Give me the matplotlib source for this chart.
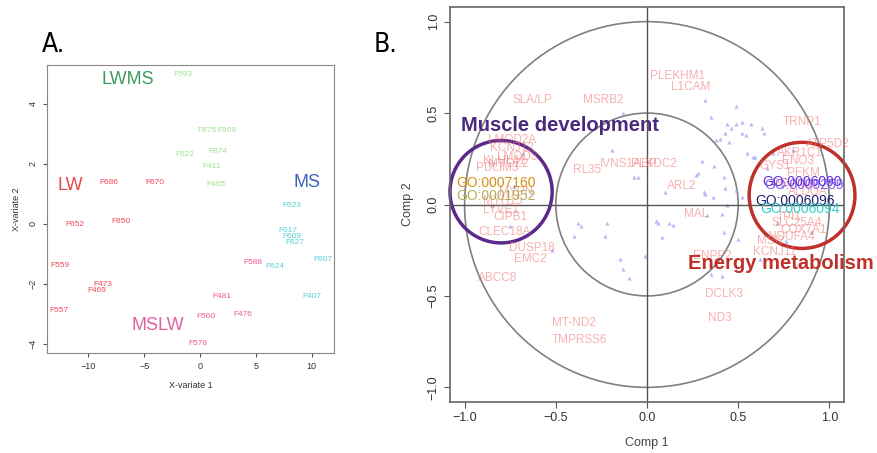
import numpy as np
import matplotlib.pyplot as plt
from matplotlib.patches import Circle

plt.rcParams['font.family'] = ['Liberation Sans', 'DejaVu Sans']

# ---- panel A: sample plot (X-variate 1 vs X-variate 2) ----
samples = ["F593", "F875", "F509", "F622", "F874", "F411", "F405",
           "F686", "F670", "F652", "F850", "F559", "F473", "F469", "F557",
           "F623", "F617", "F609", "F627", "F607", "F624", "F407",
           "F588", "F481", "F476", "F560", "F578"]
var1 = [-1.5, 0.6, 2.4, -1.4, 1.6, 1.0, 1.4,
        -8.2, -4.0, -11.2, -7.1, -12.5, -8.7, -9.2, -12.6,
        8.2, 7.9, 8.2, 8.5, 11.0, 6.7, 10.0,
        4.7, 2.0, 3.8, 0.5, -0.2]
var2 = [4.97, 3.1, 3.1, 2.33, 2.43, 1.9, 1.3,
        1.37, 1.4, 0.0, 0.07, -1.37, -2.0, -2.23, -2.87,
        0.63, -0.2, -0.42, -0.63, -1.17, -1.4, -2.4,
        -1.3, -2.4, -3.0, -3.1, -3.97]
sample_group = ["LWMS"] * 7 + ["LW"] * 8 + ["MS"] * 7 + ["MSLW"] * 5

groups = ["LWMS", "LW", "MS", "MSLW"]
group_x = [-6.5, -11.6, 9.6, -3.8]
group_y = [4.8, 1.3, 1.37, -3.4]
group_title_col = {"LWMS": "#3f9a5c", "LW": "#e8474a", "MS": "#3a62b8", "MSLW": "#e0609e"}
group_point_col = {"LWMS": "#8fdc7c", "LW": "#f0283c", "MS": "#3cc9cf", "MSLW": "#f03c8c"}

# ---- panel B: correlation circle (Comp 1 vs Comp 2) ----
tri_x = [0.32, 0.49, 0.35, 0.44, 0.49, 0.52, 0.43, 0.38, 0.45, 0.52, -0.13, -0.19,
         -0.07, 0.37, 0.42, 0.27, 0.31, 0.36, 0.43, 0.49, 0.10, 0.41, 0.33, 0.06,
         0.12, 0.42, -0.38, -0.36, -0.22, -0.23, -0.40, 0.46, 0.57, 0.63, 0.40,
         0.54, 0.55, 0.58, 0.66, 0.28, -0.05, 0.32, 0.52, 0.05, 0.44, 0.14, 0.08,
         0.50, 0.35, 0.41, -0.01, -0.15, -0.13, -0.10, -0.52, 0.59, 0.64, 0.69,
         0.71, -0.73, -0.85, -0.75, -0.68, 0.76, 0.80, 0.90, 0.74, 0.62, 0.30]
tri_y = [0.57, 0.54, 0.48, 0.44, 0.44, 0.45, 0.39, 0.35, 0.34, 0.39, 0.50, 0.30,
         0.15, 0.21, 0.15, 0.16, 0.07, 0.04, 0.09, 0.08, 0.07, -0.05, -0.06, -0.10,
         -0.10, -0.15, -0.10, -0.12, -0.10, -0.17, -0.17, 0.42, 0.44, 0.42, 0.36,
         0.38, 0.28, 0.26, 0.20, 0.17, 0.15, 0.06, 0.04, -0.09, 0.00, -0.11, -0.18,
         -0.19, -0.38, -0.39, -0.28, -0.30, -0.35, -0.40, -0.25, 0.26, 0.39, 0.28,
         -0.10, 0.10, 0.00, -0.12, 0.28, -0.20, 0.30, -0.15, 0.10, -0.30, 0.24]

genes = ["SLA/LP", "MSRB2", "PLEKHM1", "L1CAM", "TRNP1", "RL35", "IVNS1ABP",
         "PLXDC2", "ARL2", "MAL", "DCLK3", "ND3", "MT-ND2", "TMPRSS6", "ABCC8",
         "DUSP18", "EMC2", "CLEC18A", "LMOD2A", "KCNJ12", "KLHL41", "MYOZ2",
         "PDLIM3", "MYPN", "LYVE1", "CIPB1", "MYH15", "LMOD3",
         "ATP5D2", "AKR1C1", "GYS1", "PFKM", "ENO3", "PGAM2", "ALDOA", "TPI1",
         "SLC25A4", "COX7A1", "NDUFA4", "MSI2", "KCNJ11", "ENPP2"]
gene_x = [-0.63, -0.24, 0.17, 0.24, 0.85, -0.33, -0.10,
          0.04, 0.19, 0.27, 0.42, 0.40, -0.40, -0.37, -0.82,
          -0.63, -0.64, -0.78, -0.74, -0.74, -0.78, -0.76,
          -0.82, -0.72, -0.80, -0.75, -0.79, -0.71,
          0.99, 0.84, 0.70, 0.86, 0.83, 0.80, 0.88, 0.78,
          0.82, 0.86, 0.79, 0.68, 0.70, 0.36]
gene_y = [0.57, 0.57, 0.70, 0.64, 0.45, 0.19, 0.22,
          0.22, 0.10, -0.05, -0.49, -0.62, -0.65, -0.74, -0.40,
          -0.24, -0.30, -0.15, 0.35, 0.31, 0.24, 0.22,
          0.20, 0.07, -0.03, -0.07, 0.02, 0.26,
          0.33, 0.28, 0.21, 0.17, 0.24, 0.11, 0.07, -0.07,
          -0.10, -0.14, -0.18, -0.20, -0.26, -0.28]

go_terms = ["GO:0007160", "GO:0001952", "GO:0009259", "GO:0006090", "GO:0006096", "GO:0006094"]
go_x = [-0.83, -0.83, 0.86, 0.85, 0.81, 0.84]
go_y = [0.115, 0.045, 0.105, 0.125, 0.02, -0.025]
go_col = ["#d4900f", "#b3ae55", "#8a60f0", "#5a2fe0", "#1c1c70", "#2ecfcf"]

fig = plt.figure(figsize=(8.77, 4.53), dpi=100)
W, H = 877, 453


def px_axes(x0, y0, x1, y1):
    return fig.add_axes([x0 / W, 1 - y1 / H, (x1 - x0) / W, (y1 - y0) / H])


# ---------- A ----------
ax = px_axes(47, 65, 334, 353)
for name, x, y, g in zip(samples, var1, var2, sample_group):
    ax.text(x, y, name, color=group_point_col[g], fontsize=6, ha='center', va='center', alpha=0.85)
for g, x, y in zip(groups, group_x, group_y):
    ax.text(x, y, g, color=group_title_col[g], fontsize=13, ha='center', va='center')
ax.set_xlim(-13.7, 12)
ax.set_ylim(-4.3, 5.3)
ax.set_xticks([-10, -5, 0, 5, 10])
ax.set_yticks([-4, -2, 0, 2, 4])
ax.tick_params(labelsize=6.5, length=3, color='#555555', labelcolor='#333333')
for lab in ax.get_yticklabels():
    lab.set_rotation(90)
    lab.set_va('center')
for s in ax.spines.values():
    s.set_color('#888888')
ax.set_xlabel("X-variate 1", fontsize=6.5, color='#333333', labelpad=7)
ax.set_ylabel("X-variate 2", fontsize=6.5, color='#333333', labelpad=6)
fig.text(53 / W, 1 - 45 / H, "A.", fontsize=19, family='DejaVu Sans', stretch='condensed',
         ha='center', va='center')

# ---------- B ----------
bx = px_axes(450, 7, 844, 402)
bx.set_xlim(-1.08, 1.08)
bx.set_ylim(-1.08, 1.08)
for r in [1.0, 0.5]:
    bx.add_patch(Circle((0, 0), r, fill=False, ec='#808080', lw=1.2))
bx.axhline(0, color='#555555', lw=1)
bx.axvline(0, color='#555555', lw=1)
bx.scatter(tri_x, tri_y, marker='^', s=9, color='#9c9cf2', alpha=0.7, lw=0)
for name, x, y in zip(genes, gene_x, gene_y):
    bx.text(x, y, name, color='#f07070', alpha=0.55, fontsize=8.5, ha='center', va='center')
for name, x, y, c in zip(go_terms, go_x, go_y, go_col):
    bx.text(x, y, name, color=c, fontsize=10, ha='center', va='center', clip_on=False)

bx.add_patch(Circle((-0.80, 0.07), 0.28, fill=False, ec='#5b2a8c', lw=2.5, clip_on=False))
bx.add_patch(Circle((0.85, 0.05), 0.29, fill=False, ec='#c0302a', lw=2.5, clip_on=False))
bx.text(-1.02, 0.43, "Muscle development", color='#4b2a7e', fontsize=14.5, weight='bold',
        ha='left', va='center', clip_on=False)
bx.text(0.225, -0.32, "Energy metabolism", color='#c0302a', fontsize=14.5, weight='bold',
        ha='left', va='center', clip_on=False)

bx.set_xticks([-1.0, -0.5, 0.0, 0.5, 1.0])
bx.set_yticks([-1.0, -0.5, 0.0, 0.5, 1.0])
bx.tick_params(labelsize=9, length=4, color='#555555', labelcolor='#333333')
for lab in bx.get_yticklabels():
    lab.set_rotation(90)
    lab.set_va('center')
for s in bx.spines.values():
    s.set_color('#666666')
    s.set_linewidth(1.2)
bx.set_xlabel("Comp 1", fontsize=9, color='#444444', labelpad=9)
bx.set_ylabel("Comp 2", fontsize=9, color='#444444', labelpad=10)
fig.text(385 / W, 1 - 45 / H, "B.", fontsize=19, family='DejaVu Sans', stretch='condensed',
         ha='center', va='center')

fig.savefig("out.png", dpi=100)
